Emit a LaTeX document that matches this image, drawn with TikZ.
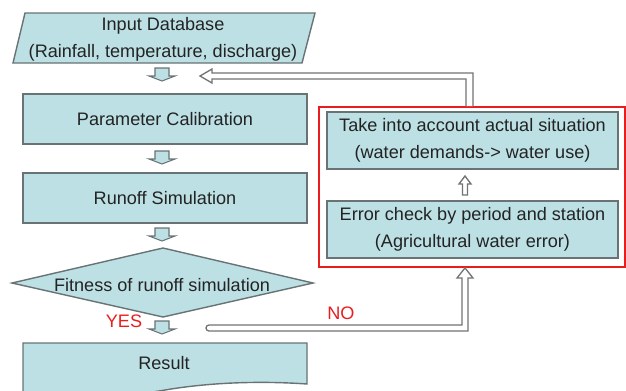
\documentclass[tikz,border=0pt]{standalone}
\usepackage{fontspec}
\setmainfont{Liberation Sans}
\usetikzlibrary{calc}
\definecolor{boxfill}{RGB}{188,224,228}
\definecolor{boxline}{RGB}{105,115,117}
\definecolor{txt}{RGB}{35,35,35}
\definecolor{hollowc}{RGB}{115,115,115}
\definecolor{redl}{RGB}{232,30,30}
\tikzset{
  lbl/.style={font=\fontsize{10.3}{15.5}\selectfont, text=txt, align=center, inner sep=0pt},
  box/.style={lbl, draw=boxline, fill=boxfill, line width=0.8pt, minimum width=5.68cm, minimum height=1cm},
  rbox/.style={box, minimum width=5.82cm, minimum height=1.14cm},
  shapeline/.style={draw=boxline, fill=boxfill, line width=0.8pt},
  hollowarrow/.style={draw=hollowc, fill=white, line width=0.75pt, line join=miter},
  answer/.style={font=\fontsize{10.3}{12}\selectfont, text=redl, inner sep=0pt},
  barrow/.pic={\draw[shapeline, line width=0.6pt] (-7,0) -- (7,0) -- (7,8) -- (13,8) -- (0,13) -- (-13,8) -- (-7,8) -- cycle;}
}
\begin{document}
\begin{tikzpicture}[x=0.02cm, y=-0.02cm]
\path[use as bounding box, clip] (0,0) rectangle (626,390);

% input parallelogram
\draw[shapeline] (25,13) -- (315,13) -- (302,63) -- (13,63) -- cycle;
\node[lbl] (input) at (163,39) {Input Database\\(Rainfall, temperature, discharge)};

% main boxes
\node[box] (calib) at (165,119) {Parameter Calibration};
\node[box] (runoff) at (165,198) {Runoff Simulation};

% decision diamond
\coordinate (dW) at (12,283);
\coordinate (dN) at (163,248);
\coordinate (dE) at (313,283);
\coordinate (dS) at (163,317);
\draw[shapeline] (dW) -- (dN) -- (dE) -- (dS) -- cycle;
\node[lbl] (fit) at (162,285) {Fitness of runoff simulation};

% result (document shape)
\draw[shapeline] (23,343) -- (307,343) -- (307,384)
  .. controls (250,380) and (200,384) .. (165,390)
  .. controls (120,398) and (60,398) .. (23,394) -- cycle;
\node[lbl] (result) at (164,363) {Result};

% block arrows
\pic at (162,68) {barrow};
\pic at (162,151) {barrow};
\pic at (162,228) {barrow};
\pic at (162,321) {barrow};

% red frame and its boxes
\node[draw=redl, line width=1.1pt, minimum width=6.12cm, minimum height=3.2cm, inner sep=0pt] (frame) at (472,187) {};
\node[rbox] (actual) at (472.5,140.5) {Take into account actual situation\\(water demands-> water use)};
\node[rbox] (error) at (472.5,229.5) {Error check by period and station\\(Agricultural water error)};

% hollow arrow between the two boxes
\draw[hollowarrow] (465,176) -- (471,184) -- (467.5,184) -- (467.5,195) -- (462.5,195) -- (462.5,184) -- (459,184) -- cycle;

% feedback arrow from frame to input
\draw[hollowarrow] ($(frame.north)+(-6,0)$) -- (466,79) -- (212,79) -- (212,83) -- (200,76) -- (212,69) -- (212,73) -- (473,73) -- ($(frame.north)+(1,0)$);

% NO arrow from decision to frame
\draw[hollowarrow] (209,325) -- (462,325) -- (462,278) -- (457,278) -- ($(frame.south)+(-7,0)$) -- (473,278) -- (468,278) -- (468,331) -- (209,331) arc[start angle=90, end angle=270, radius=3] -- cycle;

% answers
\node[answer] (yes) at (124,321) {YES};
\node[answer] (no) at (341,313) {NO};
\end{tikzpicture}
\end{document}
